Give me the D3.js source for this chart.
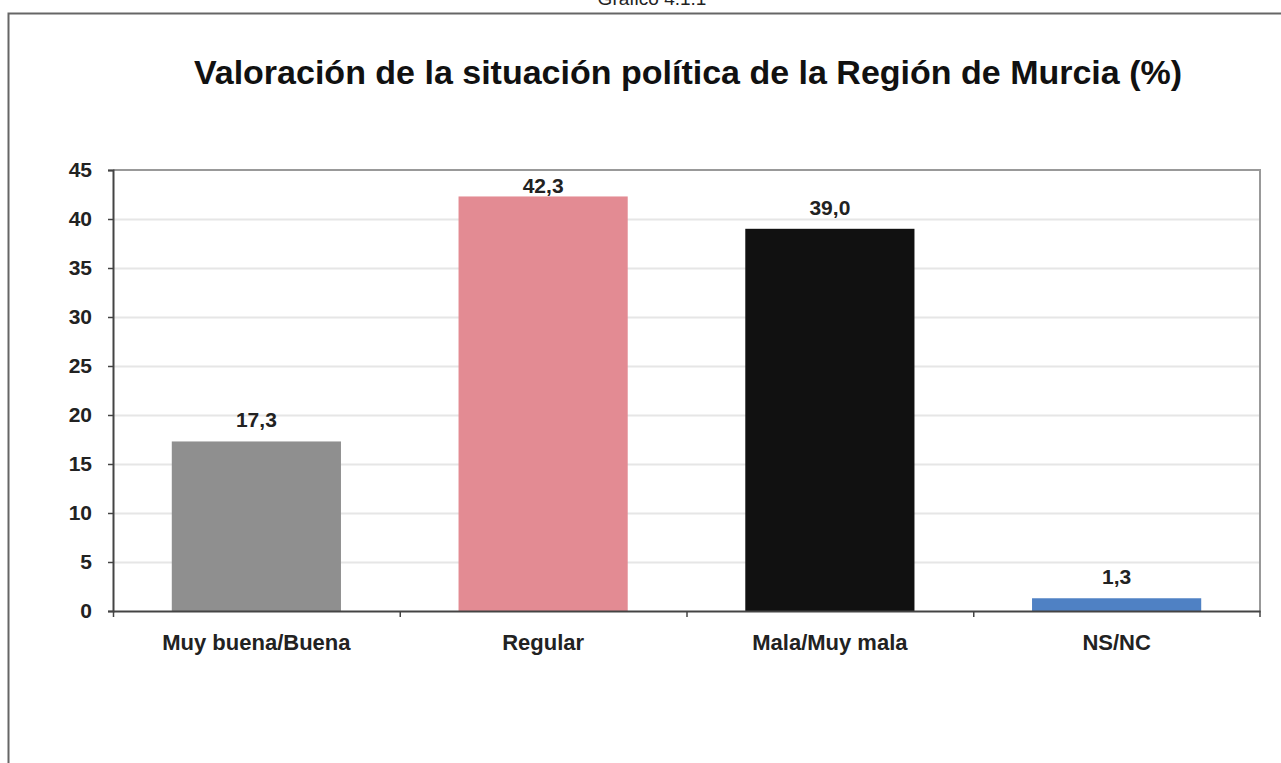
<!DOCTYPE html>
<html>
<head>
<meta charset="utf-8">
<script src="https://cdn.jsdelivr.net/npm/d3@7"></script>
<style>
  html, body { margin: 0; padding: 0; background: #fff; }
  svg { display: block; font-family: "Liberation Sans", Arial, sans-serif; }
</style>
</head>
<body>
<svg id="chart" width="1281" height="763"></svg>
<script>
const categories = ["Muy buena/Buena", "Regular", "Mala/Muy mala", "NS/NC"];
const values = [17.3, 42.3, 39.0, 1.3];
const valueLabels = ["17,3", "42,3", "39,0", "1,3"];
const barColors = ["#8f8f8f", "#e38b93", "#111111", "#4f81c4"];
const yTicks = [0, 5, 10, 15, 20, 25, 30, 35, 40, 45];
const title = "Valoración de la situación política de la Región de Murcia (%)";
const caption = "Gráfico 4.1.1";

const svg = d3.select("#chart");
const plot = { left: 113, right: 1260, top: 170, bottom: 611 };

// outer frame
svg.append("path")
  .attr("d", `M8.5,763 V13.5 H1281`)
  .attr("fill", "none").attr("stroke", "#666").attr("stroke-width", 2);

svg.append("text")
  .attr("x", 652).attr("y", 5)
  .attr("text-anchor", "middle")
  .attr("font-size", 19).attr("fill", "#222")
  .text(caption);

svg.append("text")
  .attr("x", 688).attr("y", 84)
  .attr("text-anchor", "middle")
  .attr("font-size", 34).attr("font-weight", "bold").attr("fill", "#111")
  .text(title);

const x = d3.scaleBand().domain(categories).range([plot.left, plot.right]).paddingInner(0.41).paddingOuter(0.205);
const xOuter = d3.scaleBand().domain(categories).range([plot.left, plot.right]);
const y = d3.scaleLinear().domain([0, 45]).range([plot.bottom, plot.top]);

// gridlines
svg.append("g").selectAll("line")
  .data(yTicks.filter(t => t > 0 && t < 45))
  .join("line")
  .attr("x1", plot.left).attr("x2", plot.right)
  .attr("y1", d => y(d) + 0.5).attr("y2", d => y(d) + 0.5)
  .attr("stroke", "#e6e6e6").attr("stroke-width", 2);

// plot border top & right
svg.append("path")
  .attr("d", `M${plot.left},${y(45)} H${plot.right} V${plot.bottom}`)
  .attr("fill", "none").attr("stroke", "#999").attr("stroke-width", 2);

// bars
svg.append("g").selectAll("rect")
  .data(values)
  .join("rect")
  .attr("x", (d, i) => x(categories[i]))
  .attr("width", x.bandwidth())
  .attr("y", d => y(d))
  .attr("height", d => y(0) - y(d))
  .attr("fill", (d, i) => barColors[i]);

// value labels
svg.append("g").selectAll("text")
  .data(values)
  .join("text")
  .attr("x", (d, i) => x(categories[i]) + x.bandwidth() / 2)
  .attr("y", d => Math.max(y(d) - 14, 193))
  .attr("text-anchor", "middle")
  .attr("font-size", 21).attr("font-weight", "bold").attr("fill", "#222")
  .text((d, i) => valueLabels[i]);

// y axis
const yAxis = svg.append("g")
  .attr("transform", `translate(${plot.left},0)`)
  .call(d3.axisLeft(y).tickValues(yTicks).tickSize(5).tickPadding(16).tickFormat(d3.format("d")));
yAxis.select(".domain").attr("stroke", "#444").attr("stroke-width", 2);
yAxis.selectAll(".tick line").attr("stroke", "#444").attr("stroke-width", 1.5);
yAxis.selectAll(".tick text")
  .attr("font-family", "Liberation Sans, Arial, sans-serif")
  .attr("font-size", 21).attr("font-weight", "bold").attr("fill", "#222");

// x axis
const xAxis = svg.append("g")
  .attr("transform", `translate(0,${plot.bottom})`)
  .call(d3.axisBottom(xOuter).tickSize(0).tickPadding(23));
xAxis.select(".domain").attr("stroke", "#444").attr("stroke-width", 2);
xAxis.selectAll(".tick text")
  .attr("font-family", "Liberation Sans, Arial, sans-serif")
  .attr("font-size", 22).attr("font-weight", "bold").attr("fill", "#222");

// category boundary ticks
svg.append("g").selectAll("line")
  .data(categories)
  .join("line")
  .attr("x1", d => xOuter(d) + 0.5).attr("x2", d => xOuter(d) + 0.5)
  .attr("y1", plot.bottom).attr("y2", plot.bottom + 6)
  .attr("stroke", "#444").attr("stroke-width", 1.5);
svg.append("line")
  .attr("x1", plot.right).attr("x2", plot.right)
  .attr("y1", plot.bottom).attr("y2", plot.bottom + 6)
  .attr("stroke", "#444").attr("stroke-width", 1.5);
</script>
</body>
</html>
